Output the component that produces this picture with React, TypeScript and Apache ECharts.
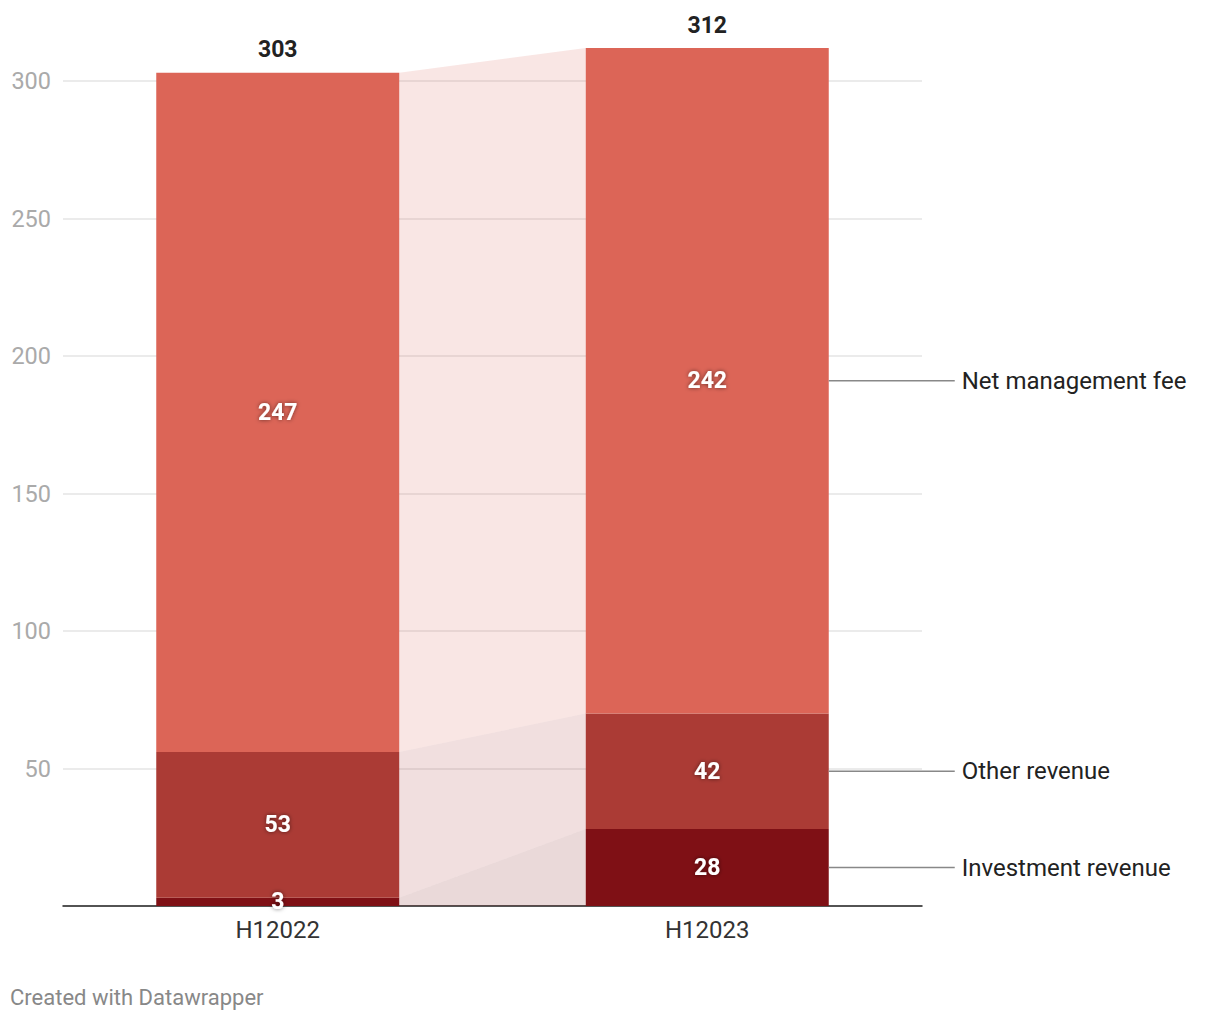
import React, { useEffect, useRef } from "react";
import * as echarts from "echarts";

const categories = ["H12022", "H12023"];
const seriesNames = ["Investment revenue", "Other revenue", "Net management fee"];
const investmentRevenue = [3, 28];
const otherRevenue = [53, 42];
const netManagementFee = [247, 242];
const yTicks = [0, 50, 100, 150, 200, 250, 300];

const colors = ["#7f1015", "#ab3b35", "#dc6557"];
const FONT = "Roboto, 'Noto Sans', sans-serif";
const BAR_W = 243;

export default function App() {
  const ref = useRef<HTMLDivElement>(null);
  useEffect(() => {
    if (!ref.current) return;
    const chart = echarts.init(ref.current, null, { renderer: "svg" });
    const segs = [investmentRevenue, otherRevenue, netManagementFee];
    const nCat = categories.length;
    const bottoms: number[][] = [];
    const tops: number[][] = [];
    for (let k = 0; k < segs.length; k++) {
      bottoms.push([]);
      tops.push([]);
      for (let c = 0; c < nCat; c++) {
        let b = 0;
        for (let j = 0; j < k; j++) b += segs[j][c];
        bottoms[k].push(b);
        tops[k].push(b + segs[k][c]);
      }
    }
    const totals = categories.map((_, c) => segs.reduce((s, a) => s + a[c], 0));
    const last = nCat - 1;

    const barSeries = segs.map((vals, k) => ({
      name: seriesNames[k],
      type: "bar",
      stack: "total",
      data: vals,
      barWidth: BAR_W,
      clip: false,
      z: 3,
      itemStyle: { color: colors[k] },
      label: {
        show: true,
        position: "inside",
        formatter: "{c}",
        color: "#fff",
        fontFamily: FONT,
        fontWeight: "bold",
        fontSize: 23,
        textShadowColor: "rgba(0,0,0,0.55)",
        textShadowBlur: 4,
      },
      emphasis: { disabled: true },
    }));

    const connectorData: number[][] = [];
    for (let k = 0; k < segs.length; k++) {
      for (let c = 0; c < nCat - 1; c++) connectorData.push([k, c]);
    }

    const option: any = {
      animation: false,
      grid: { left: 63, right: 298, top: 81, bottom: 114 },
      xAxis: {
        type: "category",
        data: categories,
        axisLine: { lineStyle: { color: "#222", width: 1.5 } },
        axisTick: { show: false },
        axisLabel: { fontFamily: FONT, fontSize: 24, color: "#333", margin: 12 },
      },
      yAxis: {
        type: "value",
        min: 0,
        max: 300,
        interval: 50,
        axisLine: { show: false },
        axisTick: { show: false },
        axisLabel: {
          fontFamily: FONT,
          fontSize: 23.5,
          color: "#aaa",
          margin: 12,
          formatter: (v: number) => (yTicks.includes(v) && v !== 0 ? String(v) : ""),
        },
        splitLine: { lineStyle: { color: "#e4e4e4", width: 1.5 } },
      },
      series: [
        {
          type: "custom",
          name: "connectors",
          z: 1,
          clip: false,
          data: connectorData,
          renderItem: (params: any, api: any) => {
            const k = api.value(0);
            const c = api.value(1);
            const pb0 = api.coord([c, bottoms[k][c]]);
            const pt0 = api.coord([c, tops[k][c]]);
            const pb1 = api.coord([c + 1, bottoms[k][c + 1]]);
            const pt1 = api.coord([c + 1, tops[k][c + 1]]);
            const x0 = pb0[0] + BAR_W / 2;
            const x1 = pb1[0] - BAR_W / 2;
            return {
              type: "polygon",
              shape: {
                points: [
                  [x0, pb0[1]],
                  [x0, pt0[1]],
                  [x1, pt1[1]],
                  [x1, pb1[1]],
                ],
              },
              style: { fill: colors[k], opacity: 0.16 },
            };
          },
        },
        ...barSeries,
        {
          type: "custom",
          name: "totals",
          z: 5,
          clip: false,
          data: totals.map((t, c) => [c, t]),
          renderItem: (params: any, api: any) => {
            const p = api.coord([api.value(0), api.value(1)]);
            return {
              type: "text",
              x: p[0],
              y: p[1] - 23,
              style: {
                text: String(api.value(1)),
                fill: "#222",
                fontFamily: FONT,
                fontWeight: "bold",
                fontSize: 23,
                align: "center",
                verticalAlign: "middle",
              },
            };
          },
        },
        {
          type: "custom",
          name: "seriesLabels",
          z: 5,
          clip: false,
          data: segs.map((_, k) => [last, (bottoms[k][last] + tops[k][last]) / 2, k]),
          renderItem: (params: any, api: any) => {
            const p = api.coord([api.value(0), api.value(1)]);
            const k = api.value(2);
            const xs = p[0] + BAR_W / 2;
            return {
              type: "group",
              children: [
                {
                  type: "line",
                  shape: { x1: xs, y1: p[1], x2: xs + 126, y2: p[1] },
                  style: { stroke: "#888", lineWidth: 1.5 },
                },
                {
                  type: "text",
                  x: xs + 133,
                  y: p[1],
                  style: {
                    text: seriesNames[k],
                    fill: "#222",
                    fontFamily: FONT,
                    fontSize: 24,
                    align: "left",
                    verticalAlign: "middle",
                  },
                },
              ],
            };
          },
        },
      ],
      graphic: [
        {
          type: "text",
          left: 10,
          top: 986,
          style: {
            text: "Created with Datawrapper",
            fill: "#888",
            fontFamily: FONT,
            fontSize: 22,
          },
        },
      ],
    };
    chart.setOption(option);
    return () => chart.dispose();
  }, []);
  return (
    <div
      ref={ref}
      style={{ position: "absolute", left: 0, top: 0, width: 1220, height: 1020, background: "#fff" }}
    />
  );
}
